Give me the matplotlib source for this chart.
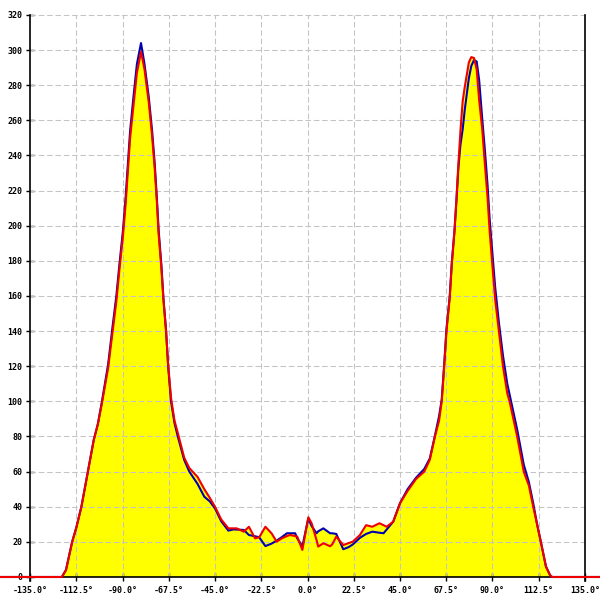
import numpy as np
import matplotlib
matplotlib.use("Agg")
import matplotlib.pyplot as plt

# angle samples (degrees) shared by both series
angles = [-155, -119.5, -117.5, -114.5, -112.5, -110, -107, -104, -102, -100,
          -97, -95, -93, -91.5, -89.8, -88.5, -87.4, -86.3, -84.7, -83,
          -81, -79.3, -77.2, -75.6, -74.3, -73.3, -72.4, -71.1, -70.1, -68.8,
          -67.8, -66.4, -64.7, -63.1, -60, -57.5, -53.5, -50.2, -47.5, -45,
          -42, -38.5, -36, -34.5, -31, -28.5, -25.5, -23.5, -20.5, -17.5,
          -15, -12.5, -10, -8.5, -6, -5, -2.5, 0.4, 2, 4.4,
          5.2, 7.7, 11, 12, 14, 17.4, 20, 22, 25.5, 28.5,
          31.5, 35, 37, 38.5, 41.7, 45, 48.7, 52.8, 56.8, 59.5,
          62, 64, 65.3, 66.5, 67.6, 69.2, 70.2, 71.5, 72.5, 73.4,
          74.4, 75.5, 76.5, 77.5, 78.5, 79.7, 81, 82.3, 83.5, 85,
          86.3, 87.6, 88.6, 89.9, 91.3, 93.1, 95.1, 97.2, 98.3, 102,
          105.2, 107.7, 109.8, 111.7, 113.7, 116, 118, 119, 150]

blue = [0, 0, 4, 20, 28, 40, 59, 78, 87, 100,
        121, 141, 160, 178, 197, 216, 235, 254, 273, 292,
        304, 292, 273, 254, 235, 216, 197, 178, 159, 140,
        120, 100, 87.6, 80, 66.7, 60, 53, 45.7, 43, 39,
        31.8, 26.4, 27.1, 27, 26.8, 23.9, 23.2, 22.6, 17.6, 19,
        20.7, 22.7, 24.9, 24.9, 24.9, 22, 17.5, 33.4, 29, 24.9,
        26, 27.7, 24.9, 24.9, 24.5, 15.8, 17, 18.5, 22.3, 24.5,
        25.8, 25.2, 24.9, 27, 31.5, 42, 50, 56.5, 61.5, 67.5,
        80.5, 91.5, 101, 121, 141, 160, 179, 197, 215, 233,
        246, 255, 266, 275, 284, 291, 294.3, 293.5, 283, 261,
        243, 223, 204, 185, 165, 145, 126, 110, 104, 84,
        64, 54, 42, 30, 19, 6, 1, 0, 0]

red = [0, 0, 4, 20, 28, 40, 59, 78, 87, 99,
       119, 138, 157, 175, 194, 212, 231, 250, 268, 287,
       299, 289, 270, 251, 232, 214, 195, 176, 158, 140,
       121, 102, 89, 82, 68, 62, 57, 50, 45, 40,
       32.8, 27.7, 27.7, 27.7, 25.8, 28.6, 22, 22.6, 28.6, 24.9,
       20.1, 22, 23.3, 23.9, 23.3, 23, 15.4, 34, 30.6, 21,
       17.3, 19.2, 17.5, 18.5, 23, 18.2, 19.3, 20.1, 23.9, 29.5,
       28.6, 30.6, 29.5, 28.6, 31.5, 42, 49, 55.8, 60, 66.7,
       80, 89, 100, 120, 140, 159, 178, 197, 216, 235,
       254, 271, 279, 286, 293, 296, 295.5, 289, 271.5, 255,
       235, 216, 197, 178, 158, 140, 120, 104.4, 100, 80,
       60, 52, 40, 30, 19, 6, 1, 0, 0]

x_ticks = [-135, -112.5, -90, -67.5, -45, -22.5, 0, 22.5, 45, 67.5, 90, 112.5, 135]
y_ticks = list(range(0, 321, 20))

x = np.array(angles)
b = np.array(blue)
r = np.array(red)

fig = plt.figure(figsize=(6, 6), dpi=100)
ax = fig.add_axes([0, 0, 1, 1])
ax.set_xlim(-149.6, 142.3)
ax.set_ylim(-13.1, 328.5)

# fill under the higher of the two curves
ax.fill_between(x, 0, np.maximum(b, r), color='#ffff00', lw=0, zorder=1)

# dashed grid inside the frame
grid_kw = dict(color='#c4c4c4', lw=0.75, ls=(0, (5.3, 2.7)), zorder=2)
for yv in y_ticks[1:]:
    ax.plot([-135, 135], [yv, yv], **grid_kw)
for xv in x_ticks[1:-1]:
    ax.plot([xv, xv], [0, 320], **grid_kw)

ax.plot(x, b, color='#0000b0', lw=1.5, zorder=3)
ax.plot(x, r, color='#ee0000', lw=1.5, zorder=4)

# right frame line
ax.plot([135, 135], [-2, 320], color='black', lw=1.2, zorder=2.6)

for s in ['top', 'right']:
    ax.spines[s].set_visible(False)
ax.spines['left'].set_position(('data', -135))
ax.spines['left'].set_bounds(-2, 320)
ax.spines['bottom'].set_position(('data', 0))
ax.spines['left'].set_linewidth(1.2)
ax.spines['bottom'].set_linewidth(1.2)

ax.set_xticks(x_ticks)
ax.set_xticklabels([f'{v:.1f}°' for v in x_ticks])
ax.set_yticks(y_ticks)
ax.set_yticklabels([str(v) for v in y_ticks])
ax.tick_params(direction='inout', length=6, width=1, labelsize=6, colors='black')
ax.tick_params(axis='x', pad=3.5)
ax.tick_params(axis='y', pad=2.5)
for lab in ax.get_xticklabels() + ax.get_yticklabels():
    lab.set_family('DejaVu Sans Mono')
    lab.set_fontweight('bold')

fig.savefig('out.png', dpi=100)
